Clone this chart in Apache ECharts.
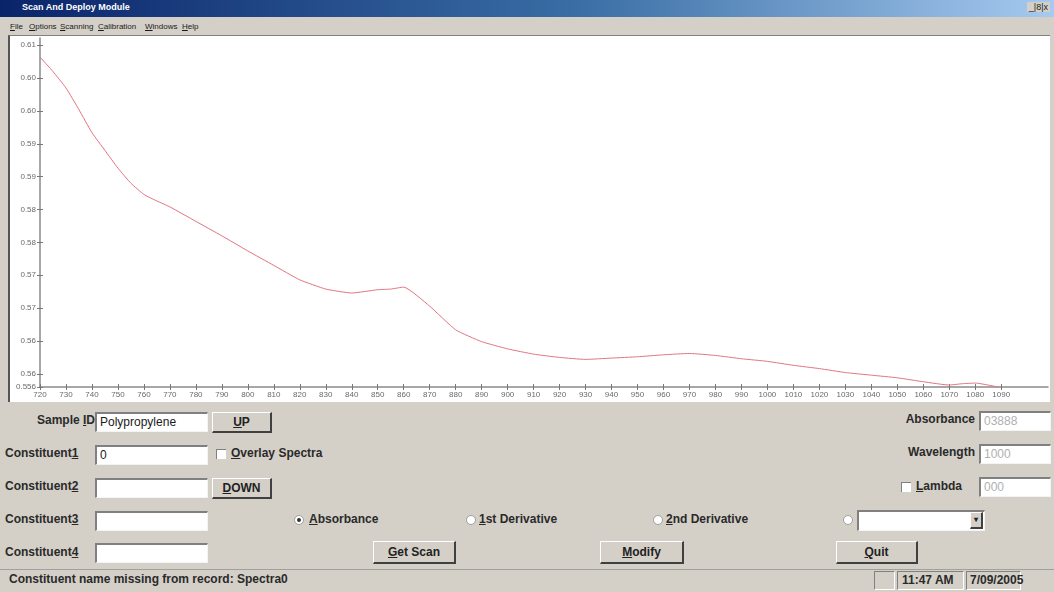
<!DOCTYPE html>
<html>
<head>
<meta charset="utf-8">
<script src="https://cdn.jsdelivr.net/npm/echarts@6/dist/echarts.min.js"></script>
<style>
  html, body { margin: 0; padding: 0; }
  body { width: 1054px; height: 592px; position: relative; overflow: hidden; background: #d4d0c8;
         font-family: "Liberation Sans", Arial, sans-serif; color: #1a1a1a; }
  .abs { position: absolute; }
  #titlebar { left: 0; top: 0; width: 1054px; height: 17px;
              background: linear-gradient(to right, #0a246a 0%, #3a6ea5 55%, #a6caf0 100%); }
  #titlebar span { position: absolute; left: 22px; top: 2px; color: #fff; font-weight: bold; font-size: 9px; }
  #winbtns { right: 4px; top: 2px; font-size: 9px; color: #222; background: #d4d0c8; padding: 0 2px; }
  #menu { left: 0; top: 18px; width: 1054px; height: 16px; font-size: 8px; }
  #menu span { position: absolute; top: 4px; }
  #plotframe { left: 8px; top: 35px; width: 1042px; height: 367px; background: #fff;
               border-left: 2px solid #555; border-top: 1px solid #808080; box-sizing: border-box; }
  #chart { left: 10px; top: 36px; width: 1040px; height: 366px; }
  .lbl { position: absolute; font-size: 12px; font-weight: bold; color: #2a2a2a; white-space: nowrap; }
  .lblr { position: absolute; font-size: 12px; font-weight: bold; color: #2a2a2a; white-space: nowrap; text-align: right; }
  .box { position: absolute; background: #fff; box-sizing: border-box;
         border-top: 2px solid #808080; border-left: 2px solid #808080;
         border-bottom: 1px solid #f4f4f4; border-right: 1px solid #f4f4f4;
         font-size: 12px; padding-left: 3px; line-height: 16px; }
  .btn { position: absolute; box-sizing: border-box; background: #d4d0c8;
         border-top: 1px solid #fff; border-left: 1px solid #fff;
         border-bottom: 2px solid #404040; border-right: 2px solid #404040;
         font-size: 12px; font-weight: bold; text-align: center; color: #222; }
  .chk { position: absolute; width: 10px; height: 10px; background: #fff; box-sizing: border-box;
         border-top: 1px solid #808080; border-left: 1px solid #808080; }
  .radio { position: absolute; width: 10px; height: 10px; background: #fff; border-radius: 50%; box-sizing: border-box;
           border: 1px solid #a0a0a0; }
  .radio.on::after { content: ""; position: absolute; left: 2px; top: 2px; width: 4px; height: 4px; border-radius: 50%; background: #333; }
  #status { left: 0; top: 569px; width: 1054px; height: 23px; border-top: 1px solid #a0a0a0; }
  .panel { position: absolute; top: 571px; height: 19px; box-sizing: border-box;
           border-top: 1px solid #808080; border-left: 1px solid #808080;
           border-bottom: 1px solid #fff; border-right: 1px solid #fff;
           font-size: 12px; font-weight: bold; line-height: 17px; padding-left: 4px; color: #2a2a2a; }
</style>
</head>
<body>
<div id="titlebar" class="abs"><span>Scan And Deploy Module</span></div>
<div id="winbtns" class="abs">_|8|x</div>
<div id="menu" class="abs">
  <span style="left:10px"><u>F</u>ile</span>
  <span style="left:29px"><u>O</u>ptions</span>
  <span style="left:60px"><u>S</u>canning</span>
  <span style="left:98px"><u>C</u>alibration</span>
  <span style="left:145px"><u>W</u>indows</span>
  <span style="left:182px"><u>H</u>elp</span>
</div>
<div id="plotframe" class="abs"></div>
<div id="chart" class="abs"></div>

<!-- form controls -->
<div class="lblr" style="left:10px; top:413px; width:85px;">Sample <u>I</u>D</div>
<div class="box" style="left:95px; top:412px; width:113px; height:20px;">Polypropylene</div>
<div class="btn" style="left:212px; top:412px; width:60px; height:21px; line-height:18px;"><u>U</u>P</div>

<div class="lbl" style="left:5px; top:446px;">Constituent<u>1</u></div>
<div class="box" style="left:95px; top:445px; width:113px; height:20px;">0</div>
<div class="chk" style="left:216px; top:449px;"></div>
<div class="lbl" style="left:231px; top:446px;"><u>O</u>verlay Spectra</div>

<div class="lbl" style="left:5px; top:479px;">Constituent<u>2</u></div>
<div class="box" style="left:95px; top:478px; width:113px; height:20px;"></div>
<div class="btn" style="left:212px; top:478px; width:60px; height:21px; line-height:18px;"><u>D</u>OWN</div>

<div class="lbl" style="left:5px; top:512px;">Constituent<u>3</u></div>
<div class="box" style="left:95px; top:511px; width:113px; height:20px;"></div>
<div class="radio on" style="left:294px; top:515px;"></div>
<div class="lbl" style="left:309px; top:512px;"><u>A</u>bsorbance</div>
<div class="radio" style="left:466px; top:515px;"></div>
<div class="lbl" style="left:479px; top:512px;"><u>1</u>st Derivative</div>
<div class="radio" style="left:653px; top:515px;"></div>
<div class="lbl" style="left:666px; top:512px;"><u>2</u>nd Derivative</div>
<div class="radio" style="left:843px; top:515px;"></div>
<div class="box" style="left:857px; top:510px; width:128px; height:21px;"></div>
<div class="btn" style="left:970px; top:512px; width:13px; height:17px; font-size:8px; line-height:14px;">&#9662;</div>

<div class="lbl" style="left:5px; top:545px;">Constituent<u>4</u></div>
<div class="box" style="left:95px; top:543px; width:113px; height:20px;"></div>
<div class="btn" style="left:373px; top:541px; width:83px; height:23px; line-height:20px;"><u>G</u>et Scan</div>
<div class="btn" style="left:600px; top:541px; width:84px; height:23px; line-height:20px;"><u>M</u>odify</div>
<div class="btn" style="left:836px; top:541px; width:82px; height:23px; line-height:20px;"><u>Q</u>uit</div>

<div class="lblr" style="left:880px; top:412px; width:95px;">Absorbance</div>
<div class="box" style="left:979px; top:411px; width:72px; height:20px; color:#b0b0b0;">03888</div>
<div class="lblr" style="left:880px; top:445px; width:95px;">Wavelength</div>
<div class="box" style="left:979px; top:444px; width:72px; height:20px; color:#b0b0b0;">1000</div>
<div class="chk" style="left:901px; top:482px;"></div>
<div class="lbl" style="left:916px; top:479px;"><u>L</u>ambda</div>
<div class="box" style="left:979px; top:477px; width:72px; height:20px; color:#b0b0b0;">000</div>

<div id="status" class="abs"></div>
<div class="panel" style="left:3px; width:868px; border:none; padding-left:6px;">Constituent name missing from record: Spectra0</div>
<div class="panel" style="left:874px; width:21px;"></div>
<div class="panel" style="left:897px; width:67px;">11:47 AM</div>
<div class="panel" style="left:966px; width:55px; padding-left:3px;">7/09/2005</div>

<script>
// ---- data ----
const wavelengths = [720, 725, 730, 735, 740, 745, 750, 755, 760, 765, 770, 780, 790, 800, 810, 820, 830, 840, 850, 855, 860,
                     870, 880, 890, 900, 910, 920, 930, 940, 950, 960, 970, 980, 990, 1000, 1010, 1020, 1030, 1040, 1050,
                     1060, 1070, 1075, 1080, 1090];
const absorbance = [0.6062, 0.6040, 0.6015, 0.5982, 0.5947, 0.5920, 0.5893, 0.5870, 0.5853, 0.5843, 0.5834, 0.5812, 0.5790,
                    0.5767, 0.5745, 0.5723, 0.5709, 0.5703, 0.5708, 0.5709, 0.5712, 0.5683, 0.5647, 0.5629, 0.5618, 0.5610,
                    0.5605, 0.5602, 0.5604, 0.5606, 0.5609, 0.5611, 0.5608, 0.5603, 0.5599, 0.5593, 0.5588, 0.5582, 0.5578,
                    0.5574, 0.5568, 0.5563, 0.5565, 0.5566, 0.5559];
const xTickValues = [720, 730, 740, 750, 760, 770, 780, 790, 800, 810, 820, 830, 840, 850, 860, 870, 880, 890, 900, 910, 920,
                     930, 940, 950, 960, 970, 980, 990, 1000, 1010, 1020, 1030, 1040, 1050, 1060, 1070, 1080, 1090];
const yTickValues = [0.556, 0.558, 0.563, 0.568, 0.573, 0.578, 0.583, 0.588, 0.593, 0.598, 0.603, 0.608];
const yTickLabels = ['0.556', '0.56', '0.56', '0.57', '0.57', '0.58', '0.58', '0.59', '0.59', '0.60', '0.60', '0.61'];

const seriesData = wavelengths.map((w, i) => [w, absorbance[i]]);

const chart = echarts.init(document.getElementById('chart'), null, { renderer: 'canvas' });
const axisGrey = '#8a8a8a';
const labelStyle = { color: '#6a6a6a', fontSize: 8, fontFamily: 'Liberation Sans, Arial, sans-serif' };

function yLabel(v) {
  let best = 0, d = Infinity;
  yTickValues.forEach((t, i) => { const dd = Math.abs(t - v); if (dd < d) { d = dd; best = i; } });
  return yTickLabels[best];
}
function xLabel(v) { return String(Math.round(v)); }

chart.setOption({
  animation: false,
  backgroundColor: '#ffffff',
  grid: { left: 30, right: 2, top: 2, bottom: 15, containLabel: false },
  xAxis: [
    {
      type: 'value', min: 720, max: 1108, position: 'bottom',
      axisLine: { show: true, onZero: false, lineStyle: { color: axisGrey, width: 1.5 } },
      axisTick: { show: true, inside: false, length: 3, customValues: xTickValues, lineStyle: { color: '#777' } },
      axisLabel: { show: true, customValues: xTickValues, margin: 4, formatter: xLabel, ...labelStyle },
      splitLine: { show: false }
    },
    {
      type: 'value', min: 720, max: 1108, position: 'bottom',
      axisLine: { show: false, onZero: false },
      axisTick: { show: true, inside: true, length: 3, customValues: xTickValues, lineStyle: { color: '#777' } },
      axisLabel: { show: false },
      splitLine: { show: false }
    }
  ],
  yAxis: [
    {
      type: 'value', min: 0.556, max: 0.6091, position: 'left',
      axisLine: { show: true, onZero: false, lineStyle: { color: axisGrey, width: 1.5 } },
      axisTick: { show: true, inside: false, length: 3, customValues: yTickValues, lineStyle: { color: '#777' } },
      axisLabel: { show: true, customValues: yTickValues, margin: 4, formatter: yLabel, ...labelStyle },
      splitLine: { show: false }
    },
    {
      type: 'value', min: 0.556, max: 0.6091, position: 'left',
      axisLine: { show: false, onZero: false },
      axisTick: { show: true, inside: true, length: 3, customValues: yTickValues, lineStyle: { color: '#777' } },
      axisLabel: { show: false },
      splitLine: { show: false }
    }
  ],
  series: [{
    type: 'line',
    xAxisIndex: 0, yAxisIndex: 0,
    data: seriesData,
    showSymbol: false,
    smooth: 0.15,
    lineStyle: { color: '#e07480', width: 1 },
    z: 3
  }]
});
</script>
</body>
</html>
